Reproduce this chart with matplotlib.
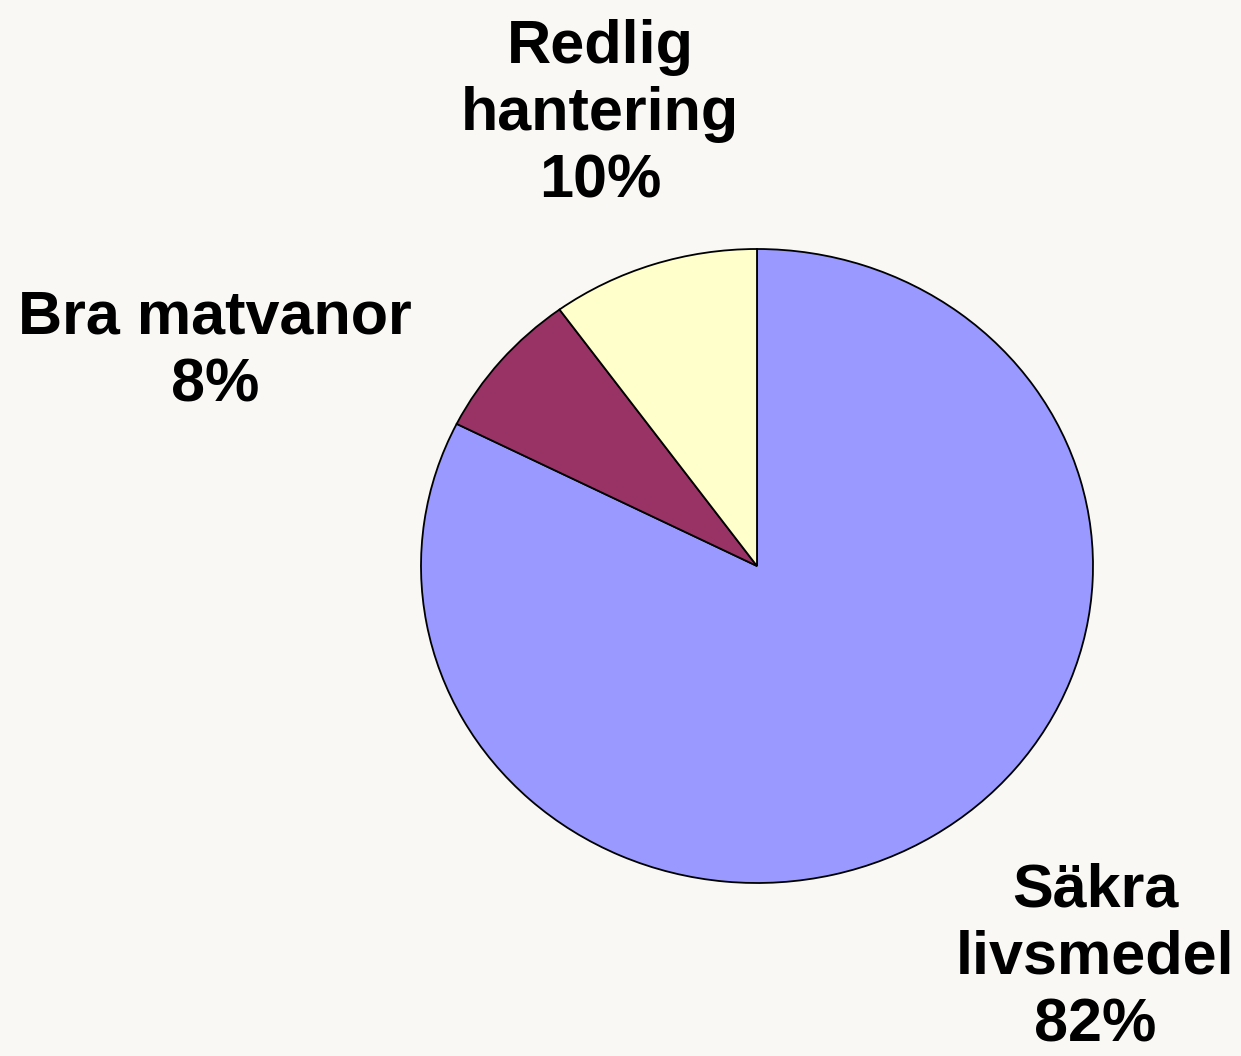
import matplotlib
matplotlib.use("Agg")
import matplotlib.pyplot as plt

# data (wedge angles), labels show rounded percent
labels = ["Säkra\nlivsmedel", "Bra matvanor", "Redlig\nhantering"]
shares = [82.4, 7.6, 10.0]
colors = ["#9999ff", "#993366", "#ffffcc"]

# label anchor points in pie units (x, y), tuned to the picture
label_pos = [(1.006, -1.238), (-1.613, 0.675), (-0.467, 1.423)]

plt.rcParams["font.family"] = ["Liberation Sans", "DejaVu Sans"]

bg = "#f9f8f5"
fig = plt.figure(figsize=(12.41, 10.56), dpi=100, facecolor=bg)
W, H = 1241, 1056
# pie box in pixels: left 421, right 1093, top 249, bottom 883
ax = fig.add_axes([421 / W, 1 - 883 / H, 672 / W, 634 / H])
ax.set_facecolor("none")

ax.pie(shares, colors=colors, startangle=90, counterclock=False,
       wedgeprops=dict(edgecolor="black", linewidth=1.3))
ax.set_aspect("auto")
ax.set_xlim(-1, 1)
ax.set_ylim(-1, 1)
ax.axis("off")

for lab, val, (x, y) in zip(labels, shares, label_pos):
    ax.text(x, y, f"{lab}\n{round(val)}%", ha="center", va="center",
            fontsize=44, fontweight="bold", linespacing=1.23, clip_on=False)

fig.savefig("out.png", dpi=100, facecolor=bg)
